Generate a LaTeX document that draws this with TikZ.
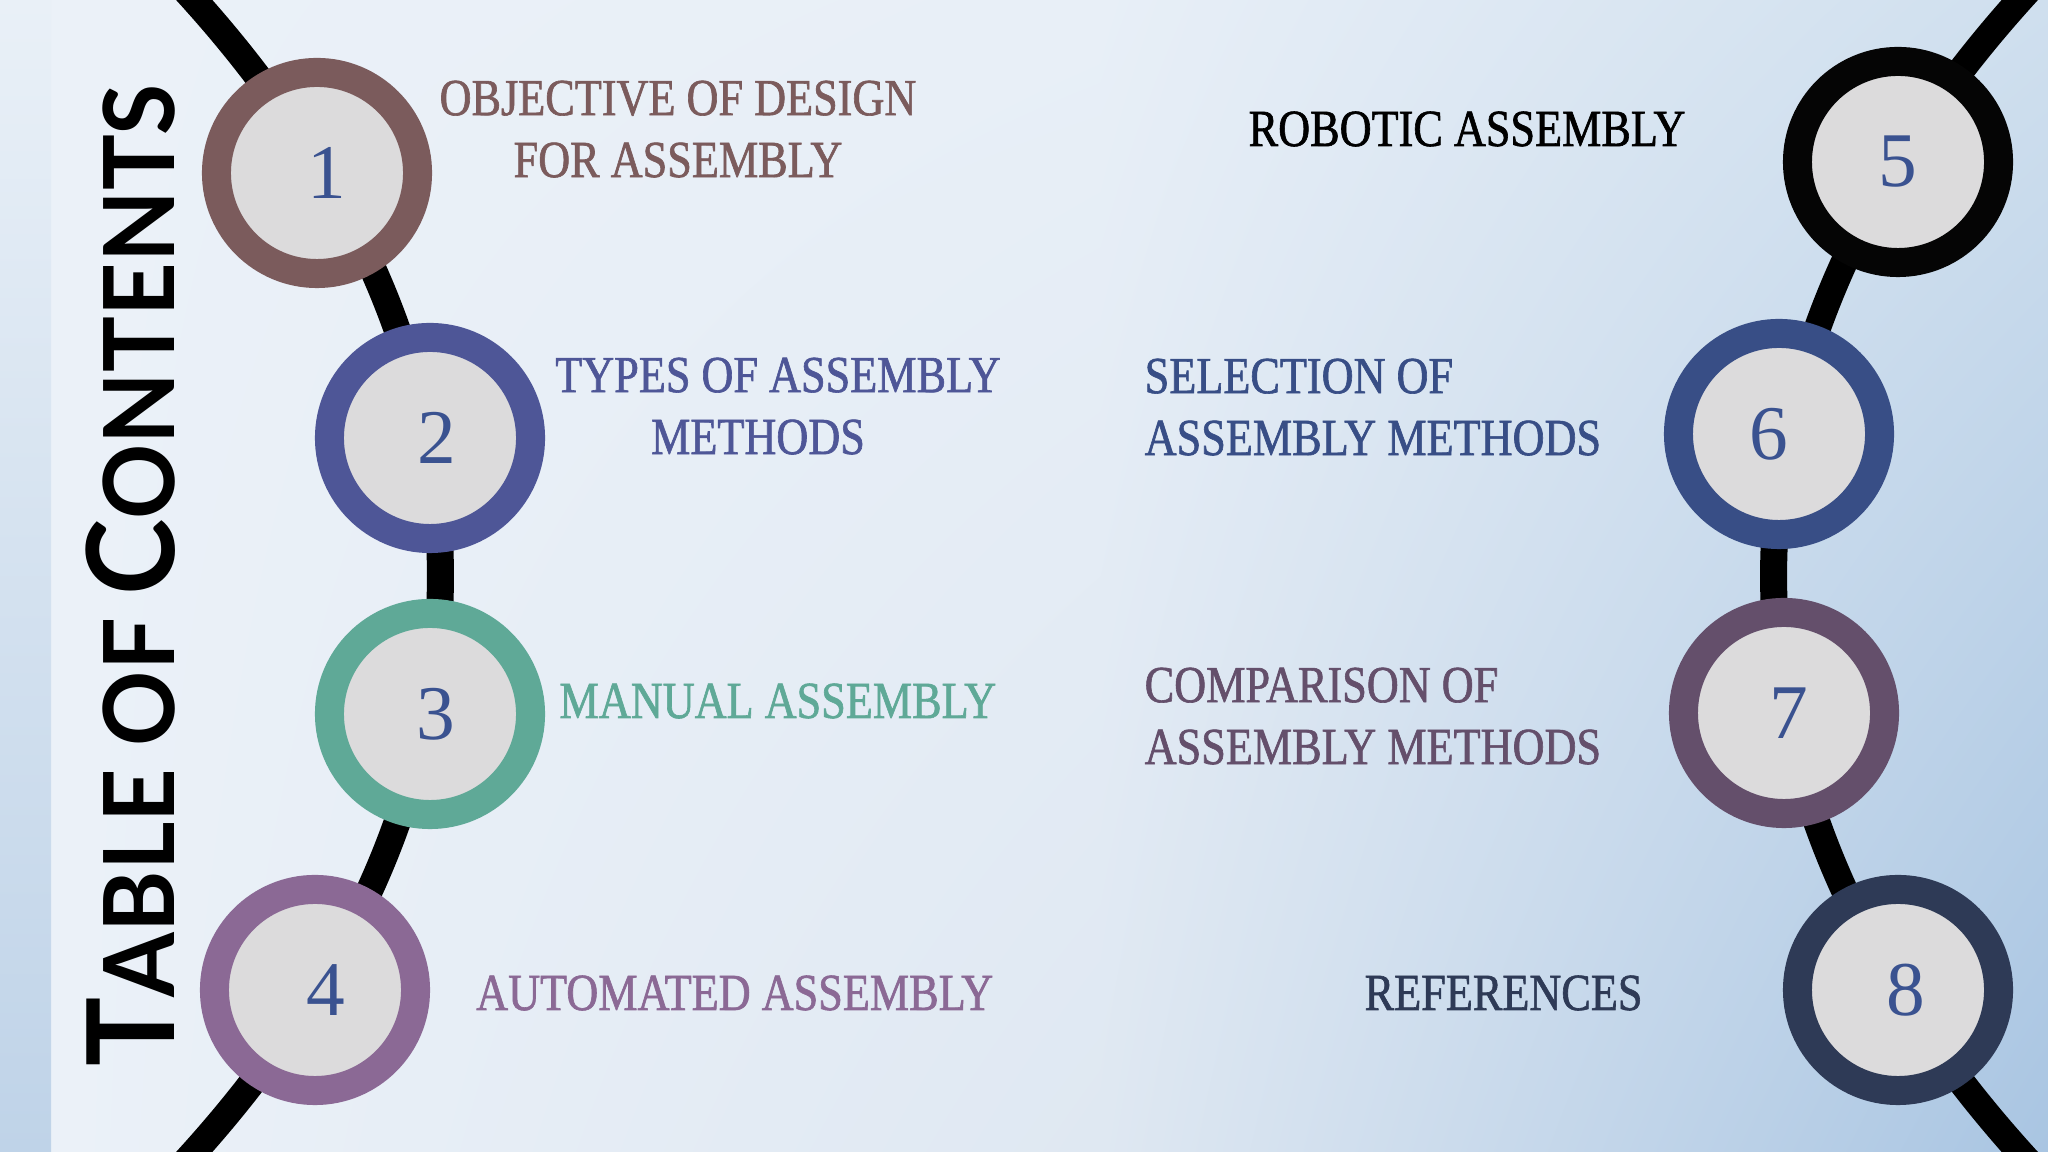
\documentclass[tikz,border=0pt]{standalone}
\usepackage{fontspec}
\setmainfont{Liberation Serif}
\newfontfamily\labelfont{Liberation Serif}[FakeStretch=0.85, FakeBold=1.2]
\newfontfamily\titlefont{Lato}[FakeStretch=0.95]
\usetikzlibrary{positioning,shadings}
\definecolor{BgLeft}{HTML}{EBF1F8}
\definecolor{BgMidTop}{HTML}{E8EFF7}
\definecolor{BgMidBottom}{HTML}{DFE8F2}
\definecolor{BgRightTop}{HTML}{CFDFEE}
\definecolor{BgRightBottom}{HTML}{A9C5E2}
\definecolor{StripTop}{HTML}{E9F0F7}
\definecolor{StripBottom}{HTML}{BFD3E8}
\definecolor{CircleFill}{HTML}{DCDBDC}
\definecolor{DigitBlue}{HTML}{3A5290}
\definecolor{RingBrown}{HTML}{7B5B5C}
\definecolor{RingIndigo}{HTML}{4E5697}
\definecolor{RingTeal}{HTML}{5FA997}
\definecolor{RingMauve}{HTML}{8B6995}
\definecolor{RingBlack}{HTML}{050505}
\definecolor{RingNavy}{HTML}{384E86}
\definecolor{RingPlum}{HTML}{644F6B}
\definecolor{RingSlate}{HTML}{2E3A56}
\newcommand{\TocBig}[1]{{\fontsize{34.5}{36}\selectfont #1}}
\newcommand{\TocSmall}[1]{{\fontsize{27.9}{30}\selectfont #1}}
\tikzset{
  track/.style={line width=0.27cm, draw=black},
  topic/.style={circle, draw=#1, line width=0.29cm, fill=CircleFill,
    minimum size=2.01cm, inner sep=0pt, text=DigitBlue,
    font=\fontsize{22}{22}\selectfont},
  topictext/.style={text=#1, inner sep=0pt,
    font=\labelfont\fontsize{14.8}{17.6}\selectfont}
}
\begin{document}
\begin{tikzpicture}[x=0.01cm, y=0.01cm]
  \clip (0,0) rectangle (2048,1152);
  % background
  \shade[upper left=BgLeft, lower left=BgLeft, upper right=BgMidTop,
    lower right=BgMidBottom] (51,0) rectangle (1100,1152);
  \shade[upper left=BgMidTop, lower left=BgMidBottom, upper right=BgRightTop,
    lower right=BgRightBottom] (1100,0) rectangle (2048,1152);
  \shade[top color=StripTop, bottom color=StripBottom] (0,0) rectangle (51,1152);

  % the two tracks
  \draw[track] (-2277.5,576) ++(26:2718 and 1385)
    arc[start angle=26, end angle=-26, x radius=2718, y radius=1385];
  \draw[track] (4491.5,576) ++(154:2718 and 1385)
    arc[start angle=154, end angle=206, x radius=2718, y radius=1385];

  % left column
  \node[topic=RingBrown]  (c1) at (317,979) {\hspace*{0.2cm}1};
  \node[topic=RingIndigo] (c2) at (430,714) {\hspace*{0.14cm}2};
  \node[topic=RingTeal]   (c3) at (430,438) {\hspace*{0.12cm}3};
  \node[topic=RingMauve]  (c4) at (315,162) {\hspace*{0.22cm}4};

  % right column
  \node[topic=RingBlack] (c5) at (1898,990) {5};
  \node[topic=RingNavy]  (c6) at (1779,718) {6\hspace*{0.2cm}};
  \node[topic=RingPlum]  (c7) at (1784,439) {\hspace*{0.1cm}7};
  \node[topic=RingSlate] (c8) at (1898,162) {\hspace*{0.16cm}8};

  % labels
  \node[topictext=RingBrown, align=center, anchor=north] (t1) at (678,1072)
    {OBJECTIVE OF DESIGN\\FOR ASSEMBLY};
  \node[topictext=RingIndigo, align=center, anchor=north] (t2) at (778,795)
    {TYPES OF ASSEMBLY\\METHODS\hspace*{0.4cm}};
  \node[topictext=RingTeal, anchor=base east] (t3) at (997,434) {MANUAL ASSEMBLY};
  \node[topictext=RingMauve, anchor=base east] (t4) at (994,142) {AUTOMATED ASSEMBLY};
  \node[topictext=black, anchor=base west] (t5) at (1248,1006) {ROBOTIC ASSEMBLY};
  \node[topictext=RingNavy, align=left, anchor=north west] (t6) at (1144,794)
    {SELECTION OF\\ASSEMBLY METHODS};
  \node[topictext=RingPlum, align=left, anchor=north west] (t7) at (1144,485)
    {COMPARISON OF\\ASSEMBLY METHODS};
  \node[topictext=RingSlate, anchor=base west] (t8) at (1364,142) {REFERENCES};

  % title
  \node[rotate=90, anchor=base west, inner sep=0pt, font=\titlefont\bfseries]
    (title) at (174,85)
    {\TocBig{T}\TocSmall{ABLE OF }\TocBig{C}\TocSmall{ONTENTS}};
\end{tikzpicture}
\end{document}
